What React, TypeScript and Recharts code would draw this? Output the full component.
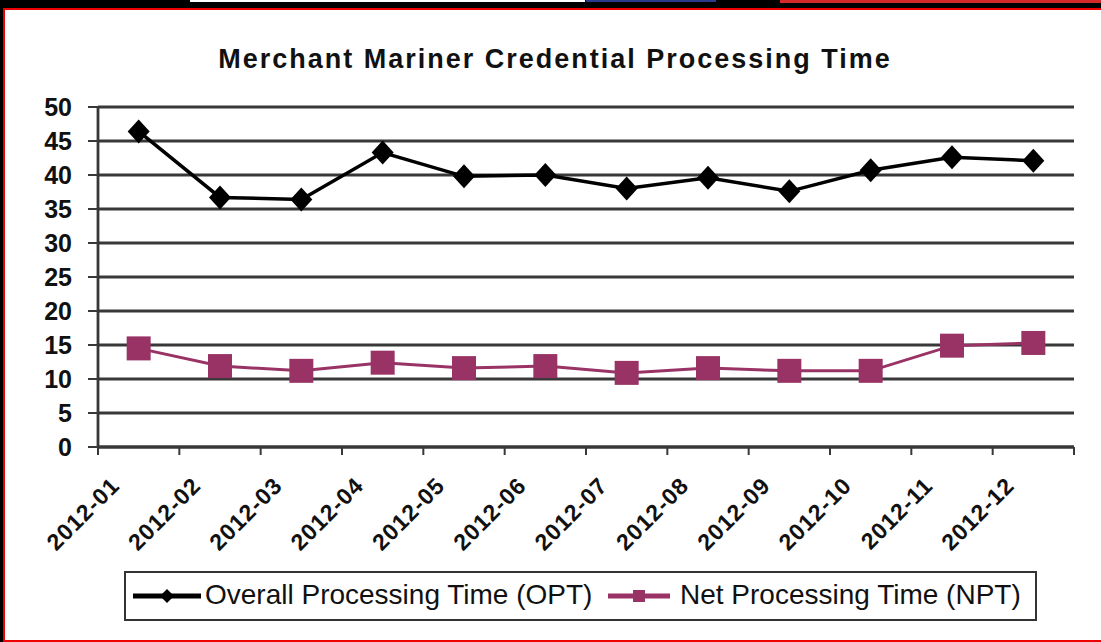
import { LineChart, Line, XAxis, YAxis, CartesianGrid } from "recharts";

const months = [
  "2012-01", "2012-02", "2012-03", "2012-04", "2012-05", "2012-06",
  "2012-07", "2012-08", "2012-09", "2012-10", "2012-11", "2012-12",
];
const optValues = [46.4, 36.7, 36.4, 43.3, 39.8, 40.0, 38.0, 39.6, 37.6, 40.7, 42.6, 42.1];
const nptValues = [14.5, 11.9, 11.2, 12.4, 11.6, 11.9, 10.9, 11.6, 11.2, 11.2, 14.9, 15.3];
const yTicks = [0, 5, 10, 15, 20, 25, 30, 35, 40, 45, 50];
const title = "Merchant Mariner Credential Processing Time";
const optName = "Overall Processing Time (OPT)";
const nptName = "Net Processing Time (NPT)";

const FONT = "'Liberation Sans', Arial, sans-serif";
const GRID = "#383838";
const PLUM = "#993366";

// points sit between the boundary ticks, like an Excel category axis
const data = months.map((m, i) => ({ month: m, pos: i + 0.5, opt: optValues[i], npt: nptValues[i] }));
const xTicks = months.map((_, i) => i).concat(months.length);

const Diamond = (props: any) => {
  const { cx, cy, index } = props;
  if (cx == null || cy == null) return <g key={`d${index}`} />;
  return <path key={`d${index}`} d={`M${cx},${cy - 12}L${cx + 11},${cy}L${cx},${cy + 12}L${cx - 11},${cy}Z`} fill="#000" />;
};

const Square = (props: any) => {
  const { cx, cy, index } = props;
  if (cx == null || cy == null) return <g key={`s${index}`} />;
  return <rect key={`s${index}`} x={cx - 12} y={cy - 12} width={24} height={24} fill={PLUM} />;
};

const MonthTick = (props: any) => {
  const { x, y, payload } = props;
  const label = months[payload.value];
  if (!label) return <g />;
  const ax = x + 23;
  const ay = y + 30;
  return (
    <text x={ax} y={ay} transform={`rotate(-45, ${ax}, ${ay})`} textAnchor="end"
      fontSize={23} fontWeight="bold" fill="#111" fontFamily={FONT} letterSpacing={1}>
      {label}
    </text>
  );
};

export default function App() {
  return (
    <div style={{ position: "fixed", left: 0, top: 0, width: 1101, height: 642, background: "#000", overflow: "hidden" }}>
      {/* bits of the slide behind the chart */}
      <div style={{ position: "absolute", left: 190, top: 0, width: 395, height: 2, background: "#fff" }} />
      <div style={{ position: "absolute", left: 586, top: 0, width: 130, height: 2, background: "#2b3a8a" }} />
      <div style={{ position: "absolute", left: 780, top: 0, width: 321, height: 3, background: "#d42a2a" }} />

      <div style={{ position: "absolute", left: 3, top: 8, width: 1098, height: 630, background: "#fff", borderLeft: "2px solid #e00", borderTop: "2px solid #e00", borderBottom: "2px solid #e00" }} />

      <div style={{ position: "absolute", left: 0, top: 44, width: 1110, textAlign: "center", fontFamily: FONT, fontWeight: "bold", fontSize: 27, letterSpacing: 2, color: "#111" }}>
        {title}
      </div>

      <div style={{ position: "absolute", left: 0, top: 0 }}>
        <LineChart width={1101} height={642} data={data} margin={{ top: 107, right: 27, bottom: 0, left: 0 }}>
          <CartesianGrid vertical={false} stroke={GRID} strokeWidth={2.8} />
          <XAxis type="number" dataKey="pos" domain={[0, 12]} ticks={xTicks} interval={0} height={195}
            tickSize={8} tickMargin={2} tick={<MonthTick />}
            axisLine={{ stroke: GRID, strokeWidth: 2.8 }} tickLine={{ stroke: GRID, strokeWidth: 2 }} />
          <YAxis domain={[0, 50]} ticks={yTicks} interval={0} width={98} tickSize={10} tickMargin={16}
            tick={{ fontSize: 25, fontWeight: "bold", fill: "#111", fontFamily: FONT }}
            axisLine={{ stroke: GRID, strokeWidth: 2.8 }} tickLine={{ stroke: GRID, strokeWidth: 2 }} />
          <Line type="linear" dataKey="opt" name={optName} stroke="#000" strokeWidth={3.5} dot={Diamond} activeDot={false} isAnimationActive={false} />
          <Line type="linear" dataKey="npt" name={nptName} stroke={PLUM} strokeWidth={3} dot={Square} activeDot={false} isAnimationActive={false} />
        </LineChart>
      </div>

      <div style={{ position: "absolute", left: 124, top: 571, width: 909, height: 46, border: "2px solid #333", fontFamily: FONT, fontSize: 28, color: "#111" }}>
        <svg style={{ position: "absolute", left: 7, top: 10 }} width={68} height={26}>
          <line x1={0} y1={13} x2={68} y2={13} stroke="#000" strokeWidth={5} />
          <path d="M34,6L41,13L34,20L27,13Z" fill="#000" />
        </svg>
        <span style={{ position: "absolute", left: 79, top: 6, whiteSpace: "nowrap" }}>{optName}</span>
        <svg style={{ position: "absolute", left: 482, top: 10 }} width={62} height={26}>
          <line x1={0} y1={13} x2={62} y2={13} stroke={PLUM} strokeWidth={5} />
          <rect x={25} y={7} width={12} height={12} fill={PLUM} />
        </svg>
        <span style={{ position: "absolute", left: 554, top: 6, whiteSpace: "nowrap" }}>{nptName}</span>
      </div>
    </div>
  );
}
